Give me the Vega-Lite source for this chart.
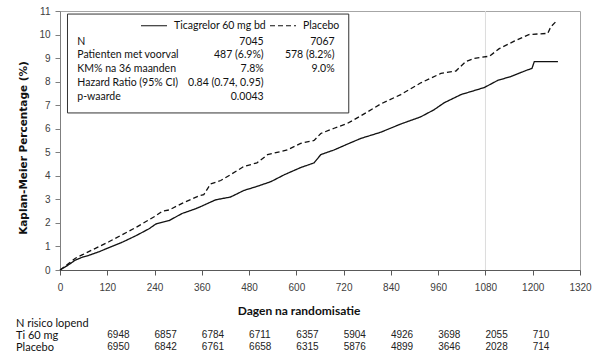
{
  "$schema": "https://vega.github.io/schema/vega-lite/v6.json",
  "padding": {"left": 15, "top": 5, "right": 5, "bottom": 2},
  "background": "white",
  "config": {
    "view": {"stroke": null},
    "font": "Liberation Sans",
    "concat": {"spacing": 0}
  },
  "datasets": {
    "km": [
      {"series": "Ticagrelor 60 mg bd", "day": 0, "pct": 0},
      {"series": "Ticagrelor 60 mg bd", "day": 20, "pct": 0.2},
      {"series": "Ticagrelor 60 mg bd", "day": 39, "pct": 0.42},
      {"series": "Ticagrelor 60 mg bd", "day": 56, "pct": 0.54},
      {"series": "Ticagrelor 60 mg bd", "day": 73, "pct": 0.62},
      {"series": "Ticagrelor 60 mg bd", "day": 100, "pct": 0.78},
      {"series": "Ticagrelor 60 mg bd", "day": 124, "pct": 0.95},
      {"series": "Ticagrelor 60 mg bd", "day": 158, "pct": 1.18},
      {"series": "Ticagrelor 60 mg bd", "day": 192, "pct": 1.45},
      {"series": "Ticagrelor 60 mg bd", "day": 226, "pct": 1.75},
      {"series": "Ticagrelor 60 mg bd", "day": 243, "pct": 1.95},
      {"series": "Ticagrelor 60 mg bd", "day": 277, "pct": 2.1},
      {"series": "Ticagrelor 60 mg bd", "day": 310, "pct": 2.4},
      {"series": "Ticagrelor 60 mg bd", "day": 344, "pct": 2.6},
      {"series": "Ticagrelor 60 mg bd", "day": 357, "pct": 2.69},
      {"series": "Ticagrelor 60 mg bd", "day": 395, "pct": 2.98},
      {"series": "Ticagrelor 60 mg bd", "day": 433, "pct": 3.1},
      {"series": "Ticagrelor 60 mg bd", "day": 467, "pct": 3.38},
      {"series": "Ticagrelor 60 mg bd", "day": 500, "pct": 3.55},
      {"series": "Ticagrelor 60 mg bd", "day": 535, "pct": 3.75},
      {"series": "Ticagrelor 60 mg bd", "day": 570, "pct": 4.05},
      {"series": "Ticagrelor 60 mg bd", "day": 611, "pct": 4.35},
      {"series": "Ticagrelor 60 mg bd", "day": 645, "pct": 4.55},
      {"series": "Ticagrelor 60 mg bd", "day": 662, "pct": 4.9},
      {"series": "Ticagrelor 60 mg bd", "day": 696, "pct": 5.1},
      {"series": "Ticagrelor 60 mg bd", "day": 730, "pct": 5.35},
      {"series": "Ticagrelor 60 mg bd", "day": 764, "pct": 5.59},
      {"series": "Ticagrelor 60 mg bd", "day": 814, "pct": 5.85},
      {"series": "Ticagrelor 60 mg bd", "day": 865, "pct": 6.2},
      {"series": "Ticagrelor 60 mg bd", "day": 915, "pct": 6.5},
      {"series": "Ticagrelor 60 mg bd", "day": 949, "pct": 6.8},
      {"series": "Ticagrelor 60 mg bd", "day": 975, "pct": 7.1},
      {"series": "Ticagrelor 60 mg bd", "day": 1018, "pct": 7.45},
      {"series": "Ticagrelor 60 mg bd", "day": 1077, "pct": 7.75},
      {"series": "Ticagrelor 60 mg bd", "day": 1111, "pct": 8.05},
      {"series": "Ticagrelor 60 mg bd", "day": 1145, "pct": 8.22},
      {"series": "Ticagrelor 60 mg bd", "day": 1187, "pct": 8.5},
      {"series": "Ticagrelor 60 mg bd", "day": 1198, "pct": 8.56},
      {"series": "Ticagrelor 60 mg bd", "day": 1204, "pct": 8.85},
      {"series": "Ticagrelor 60 mg bd", "day": 1264, "pct": 8.85},
      {"series": "Placebo", "day": 0, "pct": 0},
      {"series": "Placebo", "day": 20, "pct": 0.25},
      {"series": "Placebo", "day": 39, "pct": 0.5},
      {"series": "Placebo", "day": 56, "pct": 0.64},
      {"series": "Placebo", "day": 90, "pct": 0.92},
      {"series": "Placebo", "day": 124, "pct": 1.2},
      {"series": "Placebo", "day": 158, "pct": 1.5},
      {"series": "Placebo", "day": 192, "pct": 1.8},
      {"series": "Placebo", "day": 243, "pct": 2.3},
      {"series": "Placebo", "day": 260, "pct": 2.5},
      {"series": "Placebo", "day": 277, "pct": 2.55},
      {"series": "Placebo", "day": 310, "pct": 2.83},
      {"series": "Placebo", "day": 353, "pct": 3.15},
      {"series": "Placebo", "day": 365, "pct": 3.2},
      {"series": "Placebo", "day": 382, "pct": 3.65},
      {"series": "Placebo", "day": 408, "pct": 3.8},
      {"series": "Placebo", "day": 433, "pct": 4.05},
      {"series": "Placebo", "day": 467, "pct": 4.4},
      {"series": "Placebo", "day": 500, "pct": 4.55},
      {"series": "Placebo", "day": 527, "pct": 4.9},
      {"series": "Placebo", "day": 577, "pct": 5.1},
      {"series": "Placebo", "day": 611, "pct": 5.38},
      {"series": "Placebo", "day": 645, "pct": 5.5},
      {"series": "Placebo", "day": 662, "pct": 5.8},
      {"series": "Placebo", "day": 696, "pct": 6.02},
      {"series": "Placebo", "day": 730, "pct": 6.23},
      {"series": "Placebo", "day": 764, "pct": 6.55},
      {"series": "Placebo", "day": 814, "pct": 7.05},
      {"series": "Placebo", "day": 865, "pct": 7.45},
      {"series": "Placebo", "day": 916, "pct": 7.95},
      {"series": "Placebo", "day": 967, "pct": 8.35},
      {"series": "Placebo", "day": 1005, "pct": 8.45},
      {"series": "Placebo", "day": 1030, "pct": 8.85},
      {"series": "Placebo", "day": 1052, "pct": 8.99},
      {"series": "Placebo", "day": 1090, "pct": 9.08},
      {"series": "Placebo", "day": 1115, "pct": 9.4},
      {"series": "Placebo", "day": 1153, "pct": 9.72},
      {"series": "Placebo", "day": 1190, "pct": 10.0},
      {"series": "Placebo", "day": 1238, "pct": 10.05},
      {"series": "Placebo", "day": 1246, "pct": 10.33},
      {"series": "Placebo", "day": 1263, "pct": 10.62}
    ],
    "box": [
      {"row": "N", "label": "N", "tica": "7045", "plac": "7067"},
      {"row": "Patienten met voorval", "label": "Patienten met voorval", "tica": "487 (6.9%)", "plac": "578 (8.2%)"},
      {"row": "KM% na 36 maanden", "label": "KM% na 36 maanden", "tica": "7.8%", "plac": "9.0%"},
      {"row": "Hazard Ratio (95% CI)", "label": "Hazard Ratio (95% CI)", "tica": "0.84 (0.74, 0.95)", "plac": ""},
      {"row": "p-waarde", "label": "p-waarde", "tica": "0.0043", "plac": ""}
    ],
    "risk": [
      {"group": "Ti 60 mg", "day": 120, "n": "6948"},
      {"group": "Ti 60 mg", "day": 240, "n": "6857"},
      {"group": "Ti 60 mg", "day": 360, "n": "6784"},
      {"group": "Ti 60 mg", "day": 480, "n": "6711"},
      {"group": "Ti 60 mg", "day": 600, "n": "6357"},
      {"group": "Ti 60 mg", "day": 720, "n": "5904"},
      {"group": "Ti 60 mg", "day": 840, "n": "4926"},
      {"group": "Ti 60 mg", "day": 960, "n": "3698"},
      {"group": "Ti 60 mg", "day": 1080, "n": "2055"},
      {"group": "Ti 60 mg", "day": 1200, "n": "710"},
      {"group": "Placebo", "day": 120, "n": "6950"},
      {"group": "Placebo", "day": 240, "n": "6842"},
      {"group": "Placebo", "day": 360, "n": "6761"},
      {"group": "Placebo", "day": 480, "n": "6658"},
      {"group": "Placebo", "day": 600, "n": "6315"},
      {"group": "Placebo", "day": 720, "n": "5876"},
      {"group": "Placebo", "day": 840, "n": "4899"},
      {"group": "Placebo", "day": 960, "n": "3646"},
      {"group": "Placebo", "day": 1080, "n": "2028"},
      {"group": "Placebo", "day": 1200, "n": "714"}
    ]
  },
  "vconcat": [
    {
      "width": 520,
      "height": 259,
      "view": {"stroke": "#a6a6a6"},
      "layer": [
        {
          "layer": [
            {
              "data": {"values": [{}]},
              "mark": {"type": "rule", "color": "#dcdcdc", "strokeWidth": 1},
              "encoding": {
                "x": {
                  "datum": 1080, "type": "quantitative",
                  "scale": {"domain": [0, 1320], "nice": false},
                  "axis": {
                    "values": [0, 120, 240, 360, 480, 600, 720, 840, 960, 1080, 1200, 1320],
                    "format": "d",
                    "title": "Dagen na randomisatie",
                    "titleFont": "Lato", "titleFontSize": 12, "titleFontWeight": "bold", "titleColor": "#111111",
                    "titleX": 238.5, "titlePadding": 13,
                    "labelFont": "Liberation Sans", "labelFontSize": 10, "labelColor": "#404040",
                    "labelPadding": 7, "labelFlush": false, "labelOverlap": false,
                    "domainColor": "#595959", "tickColor": "#595959", "tickSize": 5,
                    "grid": false
                  }
                }
              }
            },
            {
              "data": {"name": "km"},
              "mark": {"type": "line", "color": "#111111", "strokeWidth": 1.3},
              "encoding": {
                "x": {
                  "field": "day", "type": "quantitative",
                  "scale": {"domain": [0, 1320], "nice": false},
                  "axis": {
                    "values": [0, 120, 240, 360, 480, 600, 720, 840, 960, 1080, 1200, 1320],
                    "format": "d",
                    "title": "Dagen na randomisatie",
                    "titleFont": "Lato", "titleFontSize": 12, "titleFontWeight": "bold", "titleColor": "#111111",
                    "titleX": 238.5, "titlePadding": 13,
                    "labelFont": "Liberation Sans", "labelFontSize": 10, "labelColor": "#404040",
                    "labelPadding": 7, "labelFlush": false, "labelOverlap": false,
                    "domainColor": "#595959", "tickColor": "#595959", "tickSize": 5,
                    "grid": false
                  }
                },
                "y": {
                  "field": "pct", "type": "quantitative",
                  "scale": {"domain": [0, 11], "nice": false},
                  "axis": {
                    "values": [0, 1, 2, 3, 4, 5, 6, 7, 8, 9, 10, 11],
                    "format": "d",
                    "labelOverlap": false, "labelFlush": false,
                    "title": "Kaplan-Meier  Percentage  (%)",
                    "titleFont": "DejaVu Sans", "titleFontSize": 10.5, "titleFontWeight": "bold", "titleColor": "#111111",
                    "titlePadding": 10, "titleY": 136.5,
                    "labelFont": "Liberation Sans", "labelFontSize": 10, "labelColor": "#404040",
                    "labelPadding": 5,
                    "domainColor": "#7f7f7f", "tickColor": "#7f7f7f", "tickSize": 5,
                    "grid": false
                  }
                },
                "strokeDash": {
                  "field": "series", "type": "nominal",
                  "scale": {"domain": ["Ticagrelor 60 mg bd", "Placebo"], "range": [[1, 0], [5, 3]]},
                  "legend": {
                    "title": null, "orient": "none", "legendX": 80, "legendY": 0.5,
                    "direction": "horizontal",
                    "symbolType": "stroke", "symbolSize": 676, "symbolStrokeWidth": 1.2,
                    "symbolStrokeColor": "#111111",
                    "labelFont": "Lato", "labelFontSize": 10.5, "labelColor": "#111111",
                    "labelOffset": 6, "columnPadding": 1
                  }
                }
              }
            },
            {
              "data": {"values": [{}]},
              "mark": {"type": "rect", "fill": "white", "stroke": "#333333", "strokeWidth": 1},
              "encoding": {
                "x": {
                  "datum": 19, "type": "quantitative",
                  "scale": {"domain": [0, 1320], "nice": false},
                  "axis": {
                    "values": [0, 120, 240, 360, 480, 600, 720, 840, 960, 1080, 1200, 1320],
                    "format": "d",
                    "title": "Dagen na randomisatie",
                    "titleFont": "Lato", "titleFontSize": 12, "titleFontWeight": "bold", "titleColor": "#111111",
                    "titleX": 238.5, "titlePadding": 13,
                    "labelFont": "Liberation Sans", "labelFontSize": 10, "labelColor": "#404040",
                    "labelPadding": 7, "labelFlush": false, "labelOverlap": false,
                    "domainColor": "#595959", "tickColor": "#595959", "tickSize": 5,
                    "grid": false
                  }
                },
                "x2": {"datum": 733},
                "y": {
                  "datum": 10.87, "type": "quantitative",
                  "scale": {"domain": [0, 11], "nice": false},
                  "axis": {
                    "values": [0, 1, 2, 3, 4, 5, 6, 7, 8, 9, 10, 11],
                    "format": "d",
                    "labelOverlap": false, "labelFlush": false,
                    "title": "Kaplan-Meier  Percentage  (%)",
                    "titleFont": "DejaVu Sans", "titleFontSize": 10.5, "titleFontWeight": "bold", "titleColor": "#111111",
                    "titlePadding": 10, "titleY": 136.5,
                    "labelFont": "Liberation Sans", "labelFontSize": 10, "labelColor": "#404040",
                    "labelPadding": 5,
                    "domainColor": "#7f7f7f", "tickColor": "#7f7f7f", "tickSize": 5,
                    "grid": false
                  }
                },
                "y2": {"datum": 6.67}
              }
            }
          ]
        },
        {
          "data": {"name": "box"},
          "encoding": {
            "y": {
              "field": "row", "type": "nominal",
              "scale": {"type": "point", "domain": ["N", "Patienten met voorval", "KM% na 36 maanden", "Hazard Ratio (95% CI)", "p-waarde"], "range": [30.7, 85.7], "padding": 0},
              "axis": null
            }
          },
          "layer": [
            {
              "mark": {"type": "text", "align": "left", "font": "Lato", "fontSize": 10.5, "color": "#111111"},
              "encoding": {"x": {"datum": 44, "type": "quantitative", "scale": {"domain": [0, 1320], "nice": false}, "axis": null}, "text": {"field": "label"}}
            },
            {
              "mark": {"type": "text", "align": "right", "font": "Lato", "fontSize": 10.5, "color": "#111111"},
              "encoding": {"x": {"datum": 517, "type": "quantitative", "scale": {"domain": [0, 1320], "nice": false}, "axis": null}, "text": {"field": "tica"}}
            },
            {
              "mark": {"type": "text", "align": "right", "font": "Lato", "fontSize": 10.5, "color": "#111111"},
              "encoding": {"x": {"datum": 697, "type": "quantitative", "scale": {"domain": [0, 1320], "nice": false}, "axis": null}, "text": {"field": "plac"}}
            }
          ]
        }
      ],
      "resolve": {"scale": {"x": "independent", "y": "independent"}, "axis": {"x": "independent", "y": "independent"}}
    },
    {
      "width": 520,
      "height": 36,
      "data": {"name": "risk"},
      "mark": {"type": "text", "align": "left", "font": "Liberation Sans", "fontSize": 10, "color": "#222222"},
      "encoding": {
        "x": {"field": "day", "type": "quantitative", "scale": {"domain": [0, 1320], "nice": false}, "axis": null},
        "y": {
          "field": "group", "type": "nominal",
          "scale": {"type": "point", "domain": ["N risico lopend", "Ti 60 mg", "Placebo"], "padding": 0.5},
          "axis": {
            "title": null, "domain": false, "ticks": false, "tickSize": 0,
            "labelAlign": "left", "labelPadding": 44.5,
            "labelFont": "Lato", "labelFontSize": 11, "labelColor": "#111111"
          }
        },
        "text": {"field": "n"}
      }
    }
  ]
}
